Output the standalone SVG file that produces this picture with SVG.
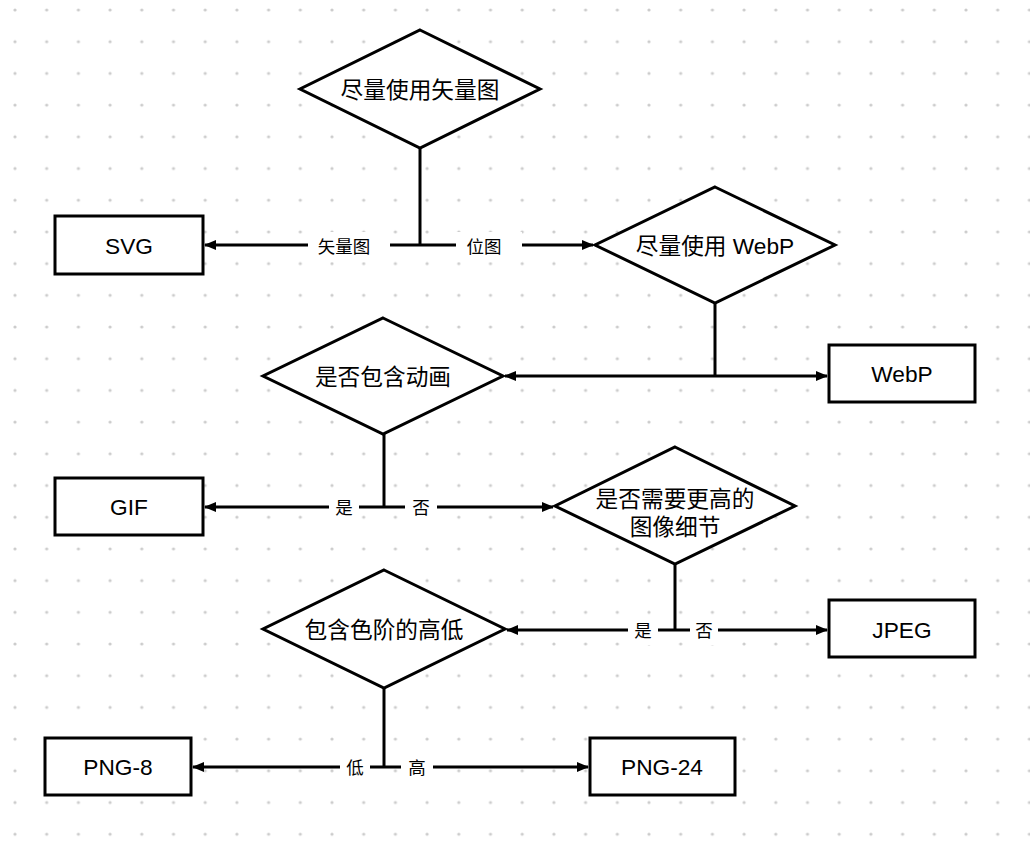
<svg xmlns="http://www.w3.org/2000/svg" width="1030" height="858" viewBox="0 0 1030 858">
<defs>
<pattern id="dots" x="15" y="10" width="31.7" height="31.7" patternUnits="userSpaceOnUse">
<circle cx="0" cy="0" r="1.6" fill="#cccccc"/>
<circle cx="31.7" cy="0" r="1.6" fill="#cccccc"/>
<circle cx="0" cy="31.7" r="1.6" fill="#cccccc"/>
<circle cx="31.7" cy="31.7" r="1.6" fill="#cccccc"/>
</pattern>
<marker id="arr" viewBox="0 0 12 10" refX="11" refY="5" markerWidth="12" markerHeight="10" markerUnits="userSpaceOnUse" orient="auto-start-reverse">
<path d="M0,0 L12,5 L0,10 Z" fill="#000"/>
</marker>
<style>
.shape{fill:#fff;stroke:#000;stroke-width:3}
.t{font-family:"Liberation Sans","Noto Sans CJK SC",sans-serif;font-size:22.7px;fill:#000;text-anchor:middle;dominant-baseline:central}
.l{font-family:"Liberation Sans","Noto Sans CJK SC",sans-serif;font-size:17.5px;fill:#000;text-anchor:middle;dominant-baseline:central}
.c{fill:none;stroke:#000;stroke-width:3}
.bg{fill:#fff}
</style>
</defs>
<rect width="1030" height="858" fill="#fff"/>
<rect width="1030" height="858" fill="url(#dots)"/>

<g id="connectors">
<path class="c" d="M420,148 V245"/>
<path class="c" d="M420,245 H205" marker-end="url(#arr)"/>
<path class="c" d="M420,245 H593" marker-end="url(#arr)"/>
<path class="c" d="M715,303 V376"/>
<path class="c" d="M715,376 H505" marker-end="url(#arr)"/>
<path class="c" d="M715,376 H827" marker-end="url(#arr)"/>
<path class="c" d="M384,434 V507"/>
<path class="c" d="M384,507 H205" marker-end="url(#arr)"/>
<path class="c" d="M384,507 H553" marker-end="url(#arr)"/>
<path class="c" d="M675,564 V630"/>
<path class="c" d="M675,630 H507" marker-end="url(#arr)"/>
<path class="c" d="M675,630 H827" marker-end="url(#arr)"/>
<path class="c" d="M384,688 V767"/>
<path class="c" d="M384,767 H193" marker-end="url(#arr)"/>
<path class="c" d="M384,767 H588" marker-end="url(#arr)"/>
<g id="labels">
<rect class="bg" x="308" y="232" width="82" height="30"/>
<text class="l" x="344" y="247">矢量图</text>
<rect class="bg" x="456" y="232" width="66" height="30"/>
<text class="l" x="484" y="247">位图</text>
<rect class="bg" x="329" y="494" width="30" height="28"/>
<text class="l" x="344" y="508">是</text>
<rect class="bg" x="405" y="494" width="32" height="28"/>
<text class="l" x="421" y="508">否</text>
<rect class="bg" x="628" y="617" width="30" height="28"/>
<text class="l" x="643" y="631">是</text>
<rect class="bg" x="690" y="617" width="28" height="28"/>
<text class="l" x="704" y="631">否</text>
<rect class="bg" x="340" y="754" width="30" height="28"/>
<text class="l" x="355" y="768">低</text>
<rect class="bg" x="401" y="754" width="32" height="28"/>
<text class="l" x="417" y="768">高</text>
</g>
</g>

<g id="n1"><polygon class="shape" points="420,30 540,89 420,148 300,89"/><text class="t" x="420" y="90">尽量使用矢量图</text></g>
<g id="svg"><rect class="shape" x="55" y="216" width="148" height="58"/><text class="t" x="129" y="246">SVG</text></g>
<g id="n2"><polygon class="shape" points="715,187 835,245 715,303 595,245"/><text class="t" x="715" y="246">尽量使用 WebP</text></g>
<g id="webp"><rect class="shape" x="829" y="345" width="146" height="57"/><text class="t" x="902" y="374">WebP</text></g>
<g id="n3"><polygon class="shape" points="383,318 503,376 383,434 263,376"/><text class="t" x="383" y="377">是否包含动画</text></g>
<g id="gif"><rect class="shape" x="55" y="478" width="148" height="57"/><text class="t" x="129" y="507">GIF</text></g>
<g id="n4"><polygon class="shape" points="675,447 795,506 675,564 555,506"/><text class="t" x="675" y="499">是否需要更高的</text><text class="t" x="675" y="527">图像细节</text></g>
<g id="jpeg"><rect class="shape" x="829" y="600" width="146" height="57"/><text class="t" x="902" y="630">JPEG</text></g>
<g id="n5"><polygon class="shape" points="384,570 505,629 384,688 263,629"/><text class="t" x="384" y="630">包含色阶的高低</text></g>
<g id="png8"><rect class="shape" x="45" y="738" width="146" height="57"/><text class="t" x="118" y="767">PNG-8</text></g>
<g id="png24"><rect class="shape" x="590" y="738" width="145" height="57"/><text class="t" x="662" y="767">PNG-24</text></g>
</svg>
